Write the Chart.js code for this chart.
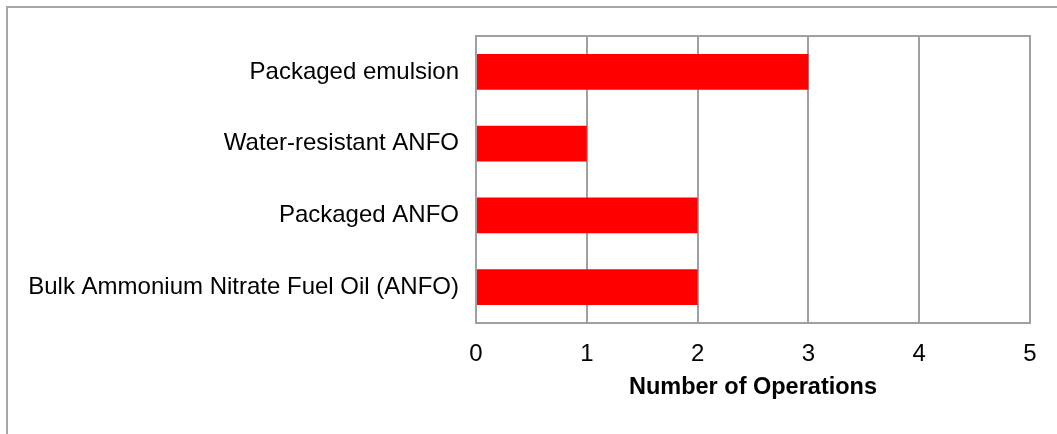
<!DOCTYPE html>
<html lang="en">
<head>
    <meta charset="UTF-8">
    <title>Explosive Types</title>
    <style>
        body {
            margin: 0;
            padding: 0;
            background-color: #fff;
            overflow: hidden;
        }
        .frame {
            position: absolute;
            left: 6px;
            top: 6px;
            width: 1100px;
            height: 500px;
            border: 2px solid #a6a6a6;
        }
        .chart-container {
            position: absolute;
            left: 0;
            top: 0;
            width: 1057px;
            height: 434px;
        }
    </style>
    <script src="https://cdn.jsdelivr.net/npm/chart.js"></script>
</head>
<body>
    <div class="frame"></div>
    <div class="chart-container">
        <canvas id="opsChart"></canvas>
    </div>
    <script>
        const categories = [
            'Packaged emulsion',
            'Water-resistant ANFO',
            'Packaged ANFO',
            'Bulk Ammonium Nitrate Fuel Oil (ANFO)'
        ];
        const operations = [3, 1, 2, 2];
        const xTicks = [0, 1, 2, 3, 4, 5];

        const gridColor = '#a0a0a0';
        const fontFamily = 'Liberation Sans, Arial';

        new Chart(document.getElementById('opsChart'), {
            type: 'bar',
            data: {
                labels: categories,
                datasets: [{
                    data: operations,
                    backgroundColor: '#ff0000',
                    borderWidth: 0,
                    categoryPercentage: 0.5,
                    barPercentage: 1
                }]
            },
            options: {
                indexAxis: 'y',
                responsive: true,
                maintainAspectRatio: false,
                animation: false,
                layout: {
                    padding: { top: 36, right: 27, left: 0, bottom: 0 }
                },
                plugins: {
                    legend: { display: false },
                    tooltip: { enabled: false }
                },
                scales: {
                    x: {
                        min: 0,
                        max: 5,
                        afterBuildTicks: axis => {
                            axis.ticks = xTicks.map(v => ({ value: v }));
                        },
                        afterFit: axis => { axis.height = 111; },
                        grid: {
                            color: gridColor,
                            lineWidth: 2,
                            drawTicks: false
                        },
                        border: { color: gridColor, width: 2 },
                        ticks: {
                            padding: 17,
                            color: '#000',
                            font: { family: fontFamily, size: 24 }
                        },
                        title: {
                            display: true,
                            text: 'Number of Operations',
                            color: '#000',
                            padding: { top: 0, bottom: 32 },
                            font: { family: fontFamily, size: 23.5, weight: 'bold' }
                        }
                    },
                    y: {
                        afterFit: axis => { axis.width = 476; },
                        grid: { display: false, drawTicks: false },
                        border: { color: gridColor, width: 2 },
                        ticks: {
                            padding: 17,
                            color: '#000',
                            font: { family: fontFamily, size: 24 }
                        }
                    }
                }
            },
            plugins: [{
                id: 'plotBox',
                afterDraw(chart) {
                    const { ctx, chartArea: a } = chart;
                    ctx.save();
                    ctx.strokeStyle = gridColor;
                    ctx.lineWidth = 2;
                    ctx.strokeRect(a.left, a.top, a.right - a.left, a.bottom - a.top);
                    ctx.restore();
                }
            }]
        });
    </script>
</body>
</html>
